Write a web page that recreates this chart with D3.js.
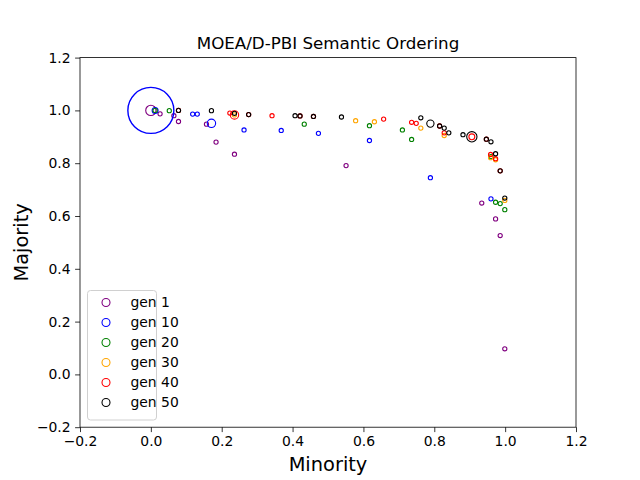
<!DOCTYPE html>
<html>
<head>
<meta charset="utf-8">
<script src="https://cdn.jsdelivr.net/npm/d3@7"></script>
<style>
  body { margin: 0; background: #fff; }
  text { font-family: "DejaVu Sans", sans-serif; }
</style>
</head>
<body>
<div id="chart-area"></div>
<script>
// generations shown, with colours
const gens = ["gen 1", "gen 10", "gen 20", "gen 30", "gen 40", "gen 50"];
const colors = ["purple", "blue", "green", "orange", "red", "black"];

// points per generation: [minority, majority, count]
const gen1 = [
  [0.0, 1.0, 6], [0.026, 0.987, 1], [0.065, 0.98, 1], [0.078, 0.958, 1],
  [0.157, 0.948, 1], [0.184, 0.88, 1], [0.236, 0.834, 1], [0.551, 0.791, 1],
  [0.934, 0.649, 1], [0.973, 0.589, 1], [0.986, 0.526, 1], [0.999, 0.097, 1]
];
const gen10 = [
  [0.0, 1.0, 120], [0.012, 1.0, 2], [0.118, 0.986, 1], [0.131, 0.986, 1],
  [0.171, 0.951, 4], [0.263, 0.926, 1], [0.368, 0.924, 1], [0.473, 0.913, 1],
  [0.617, 0.886, 1], [0.789, 0.745, 1], [0.960, 0.665, 1]
];
const gen20 = [
  [0.012, 1.0, 1], [0.052, 0.999, 1], [0.433, 0.948, 1], [0.617, 0.942, 1],
  [0.71, 0.926, 1], [0.736, 0.89, 1], [0.96, 0.825, 1], [0.973, 0.652, 1],
  [0.986, 0.647, 1], [0.999, 0.624, 1]
];
const gen30 = [
  [0.236, 0.983, 1], [0.578, 0.961, 1], [0.631, 0.957, 1], [0.762, 0.933, 1],
  [0.828, 0.905, 1], [0.959, 0.821, 1], [0.973, 0.813, 1], [0.999, 0.659, 1]
];
const gen40 = [
  [0.078, 1.0, 1], [0.223, 0.99, 1], [0.236, 0.983, 4], [0.276, 0.984, 1],
  [0.342, 0.98, 1], [0.421, 0.979, 1], [0.459, 0.977, 1], [0.657, 0.967, 1],
  [0.736, 0.955, 1], [0.749, 0.951, 1], [0.815, 0.941, 1], [0.828, 0.915, 1],
  [0.906, 0.9, 2], [0.947, 0.891, 1], [0.959, 0.833, 1], [0.973, 0.817, 1],
  [0.986, 0.771, 1]
];
const gen50 = [
  [0.078, 1.0, 1], [0.171, 0.999, 1], [0.236, 0.989, 1], [0.276, 0.984, 1],
  [0.407, 0.98, 1], [0.421, 0.979, 1], [0.459, 0.977, 1], [0.538, 0.975, 1],
  [0.762, 0.972, 1], [0.789, 0.95, 3], [0.815, 0.941, 1], [0.828, 0.933, 1],
  [0.841, 0.915, 1], [0.881, 0.908, 1], [0.906, 0.9, 6], [0.947, 0.891, 1],
  [0.96, 0.881, 1], [0.973, 0.836, 1], [0.986, 0.771, 1], [0.999, 0.668, 1]
];
const series = [gen1, gen10, gen20, gen30, gen40, gen50];

const xTicks = [-0.2, 0.0, 0.2, 0.4, 0.6, 0.8, 1.0, 1.2];
const yTicks = [-0.2, 0.0, 0.2, 0.4, 0.6, 0.8, 1.0, 1.2];

const W = 640, H = 480;
const MARGIN = { LEFT: 80, RIGHT: 64, TOP: 57.6, BOTTOM: 52.8 };
const WIDTH = W - MARGIN.LEFT - MARGIN.RIGHT;
const HEIGHT = H - MARGIN.TOP - MARGIN.BOTTOM;

const x = d3.scaleLinear().domain([-0.2, 1.2]).range([0, WIDTH]);
const y = d3.scaleLinear().domain([-0.2, 1.2]).range([HEIGHT, 0]);
const r = d3.scaleSqrt().domain([0, 1]).range([0, 2.1]);

const svg = d3.select("#chart-area").append("svg")
  .attr("width", W)
  .attr("height", H);

const g = svg.append("g")
  .attr("transform", `translate(${MARGIN.LEFT}, ${MARGIN.TOP})`);

// points, clipped to the axes box
svg.append("defs").append("clipPath").attr("id", "clip")
  .append("rect").attr("width", WIDTH).attr("height", HEIGHT);

const plot = g.append("g").attr("clip-path", "url(#clip)");
series.forEach((pts, i) => {
  plot.append("g").selectAll("circle").data(pts)
    .enter().append("circle")
    .attr("cx", d => x(d[0]))
    .attr("cy", d => y(d[1]))
    .attr("r", d => r(d[2]))
    .attr("fill", "none")
    .attr("stroke", colors[i])
    .attr("stroke-width", d => d[2] > 50 ? 1.4 : 1.1);
});

// axes
const bottomAxis = d3.axisBottom(x)
  .tickValues(xTicks)
  .tickFormat(d3.format(".1f"))
  .tickSizeInner(4.9).tickSizeOuter(0).tickPadding(4.5);
const xAxisG = g.append("g")
  .attr("transform", `translate(0, ${HEIGHT})`)
  .call(bottomAxis);

const leftAxis = d3.axisLeft(y)
  .tickValues(yTicks)
  .tickFormat(d3.format(".1f"))
  .tickSizeInner(4.9).tickSizeOuter(0).tickPadding(4.5);
const yAxisG = g.append("g").call(leftAxis);

[xAxisG, yAxisG].forEach(a => {
  a.select(".domain").remove();
  a.selectAll(".tick line").attr("stroke", "#000").attr("stroke-width", 0.8);
  a.selectAll(".tick text")
    .attr("font-family", "DejaVu Sans")
    .attr("font-size", 13.9)
    .attr("fill", "#000")
    .text(d => d3.format(".1f")(d).replace("-", "\u2212"));
});

// frame
g.append("rect")
  .attr("width", WIDTH).attr("height", HEIGHT)
  .attr("fill", "none").attr("stroke", "#000").attr("stroke-width", 0.8);

// labels
svg.append("text")
  .attr("x", MARGIN.LEFT + WIDTH / 2).attr("y", 49)
  .attr("text-anchor", "middle")
  .attr("font-size", 16.7)
  .text("MOEA/D-PBI Semantic Ordering");

svg.append("text")
  .attr("x", MARGIN.LEFT + WIDTH / 2).attr("y", 471)
  .attr("text-anchor", "middle")
  .attr("font-size", 19.4)
  .text("Minority");

svg.append("text")
  .attr("transform", `translate(28, ${MARGIN.TOP + HEIGHT / 2}) rotate(-90)`)
  .attr("text-anchor", "middle")
  .attr("font-size", 19.4)
  .text("Majority");

// legend
const legend = svg.append("g").attr("transform", "translate(87.5, 290.5)");
legend.append("rect")
  .attr("width", 69).attr("height", 129.5)
  .attr("rx", 3)
  .attr("fill", "#fff").attr("fill-opacity", 0.8)
  .attr("stroke", "#d0d0d0").attr("stroke-width", 1);

const items = legend.selectAll(".item").data(gens)
  .enter().append("g")
  .attr("transform", (d, i) => `translate(0, ${12 + i * 20})`);
items.append("circle")
  .attr("cx", 18.5).attr("cy", 0).attr("r", 4)
  .attr("fill", "none")
  .attr("stroke", (d, i) => colors[i])
  .attr("stroke-width", 1.1);
items.append("text")
  .attr("x", 43).attr("y", 0)
  .attr("dy", "0.35em")
  .attr("font-size", 13.9)
  .text(d => d);
</script>
</body>
</html>
